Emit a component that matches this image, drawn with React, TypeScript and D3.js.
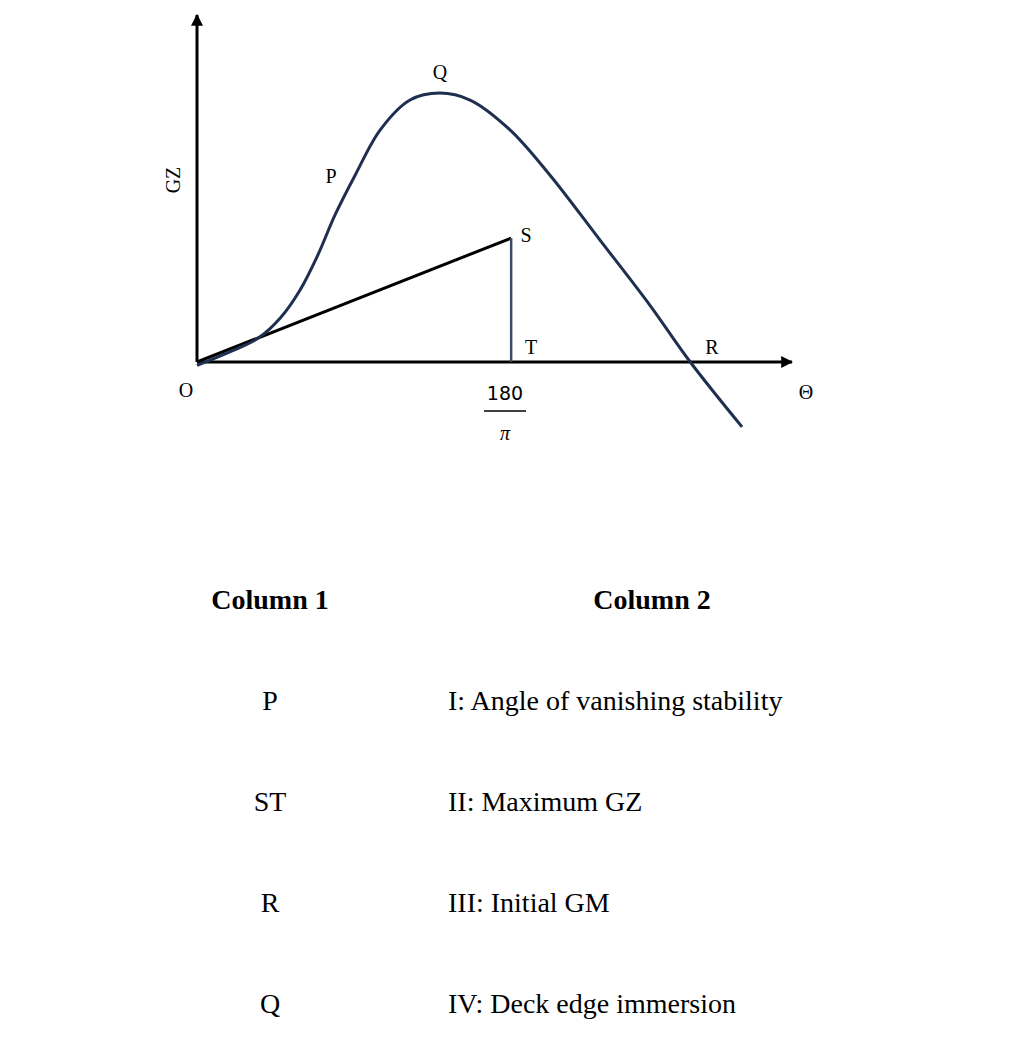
import * as d3 from 'd3';

// GZ curve (x: 0..100 heel units, y: 0..100 GZ units)
const curveX = [0, 5.5, 10.3, 14, 17.3, 20.3, 23.2, 26.6, 30.8, 35.8, 40.8, 45.9, 52.6, 59.3, 67.7, 76.1, 82.9, 91.6];
const curveY = [-1, 2.9, 6.9, 12.7, 20.7, 30.8, 42.4, 53.9, 66.9, 75.5, 77.5, 75.5, 66.9, 53.9, 35.2, 16.4, 0, -18.7];
const pointS = { x: 52.8, y: 35.7 };
const column1 = ['P', 'ST', 'R', 'Q'];
const column2 = ['I: Angle of vanishing stability', 'II: Maximum GZ', 'III: Initial GM', 'IV: Deck edge immersion'];

const W = 1028;
const H = 1043;
const curveColor = '#1f2f4f';

export default function App() {
  const x = d3.scaleLinear().domain([0, 100]).range([197, 792]);
  const y = d3.scaleLinear().domain([0, 100]).range([362, 15]);
  const pts = curveX.map((v, i) => [v, curveY[i]] as [number, number]);
  const line = d3.line<[number, number]>().x((d) => x(d[0])).y((d) => y(d[1])).curve(d3.curveCatmullRom);
  const font = '"Liberation Serif", "Times New Roman", serif';
  const rows = column1.map((c, i) => ({ c, d: column2[i], yy: 700 + i * 101 }));

  return (
    <svg width={W} height={H} style={{ position: 'absolute', left: 0, top: 0, background: '#fff' }} fontFamily={font}>
      <defs>
        <marker id="arr" viewBox="0 0 10 10" refX="9" refY="5" markerWidth="4" markerHeight="4" orient="auto">
          <path d="M0,0 L10,5 L0,10 z" fill="#000" />
        </marker>
      </defs>
      {/* axes */}
      <line x1={x(0)} y1={y(0)} x2={x(0)} y2={y(100)} stroke="#000" strokeWidth={3} markerEnd="url(#arr)" />
      <line x1={x(0)} y1={y(0)} x2={x(100)} y2={y(0)} stroke="#000" strokeWidth={3} markerEnd="url(#arr)" />
      {/* tangent and ST */}
      <line x1={x(0)} y1={y(0)} x2={x(pointS.x)} y2={y(pointS.y)} stroke="#000" strokeWidth={3} />
      <line x1={x(pointS.x)} y1={y(pointS.y)} x2={x(pointS.x)} y2={y(0)} stroke="#3d4a66" strokeWidth={2.5} />
      <path d={line(pts) ?? ''} fill="none" stroke={curveColor} strokeWidth={3} />
      {/* labels */}
      <g fontSize={20} fill="#000">
        <text x={440} y={79} textAnchor="middle">Q</text>
        <text x={331} y={183} textAnchor="middle">P</text>
        <text x={526} y={242} textAnchor="middle">S</text>
        <text x={531} y={354} textAnchor="middle">T</text>
        <text x={712} y={354} textAnchor="middle">R</text>
        <text x={186} y={397} textAnchor="middle">O</text>
        <text x={806} y={399} textAnchor="middle">Θ</text>
        <text x={505} y={400} textAnchor="middle" fontFamily='"DejaVu Sans", sans-serif' fontSize={19}>180</text>
        <line x1={484} y1={411} x2={526} y2={411} stroke="#000" strokeWidth={1.5} />
        <text x={505} y={440} textAnchor="middle" fontStyle="italic">π</text>
        <text transform="translate(180,180) rotate(-90)" textAnchor="middle">GZ</text>
      </g>
      {/* table */}
      <g fontSize={28} fill="#000">
        <text x={270} y={609} textAnchor="middle" fontWeight="bold">Column 1</text>
        <text x={652} y={609} textAnchor="middle" fontWeight="bold">Column 2</text>
        {rows.map((r) => (
          <g key={r.c}>
            <text x={270} y={r.yy + 10} textAnchor="middle">{r.c}</text>
            <text x={448} y={r.yy + 10}>{r.d}</text>
          </g>
        ))}
      </g>
    </svg>
  );
}
